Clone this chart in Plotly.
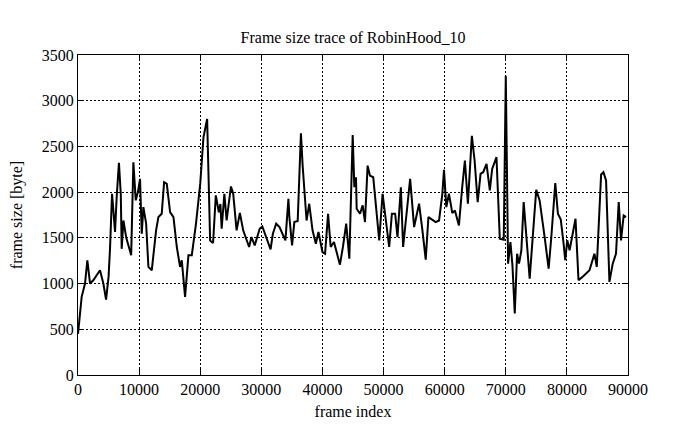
import plotly.graph_objects as go

frame_index = [0, 330, 600, 1150, 1530, 1970, 2500, 3600, 4150, 4590, 5000, 5240, 5570, 5790, 6060,
               6330, 6700, 7000, 7150, 7430, 7900, 8700, 9060, 9450, 9800, 10150, 10430, 10700, 11150,
               11520, 12070, 12780, 13160, 13700, 14090, 14530, 15070, 15620, 16170, 16700, 16980,
               17520, 18070, 18620, 19300, 20000, 20530, 21130, 21400, 21620, 22100, 22550, 23050,
               23300, 23510, 23950, 24320, 25030, 25400, 25950, 26490, 27030, 28000, 28380, 28920,
               29730, 30160, 30810, 31510, 31890, 32430, 32970, 33940, 34430, 34590, 35030, 35400,
               35950, 36220, 36480, 36760, 37100, 37400, 37840, 38380, 38920, 39350, 40000, 40430,
               40920, 41350, 41890, 42860, 43350, 43890, 44400, 44950, 45220, 45490, 45600, 46140,
               46580, 46960, 47390, 47770, 48310, 48750, 49290, 49840, 50270, 50920, 51360, 51900,
               52280, 52830, 53200, 53750, 54350, 55000, 55810, 56360, 56900, 57340, 58530, 59080,
               59620, 59890, 60270, 60700, 61250, 61680, 62330, 62870, 63310, 63800, 64130, 64450,
               64900, 65400, 65870, 66300, 66850, 67390, 67770, 68480, 69020, 69670, 70000, 70200,
               70380, 70760, 71090, 71470, 71850, 72170, 72550, 72930, 73370, 73910, 74980, 75540,
               76360, 77010, 77450, 78100, 78530, 79000, 79460, 79730, 80060, 80440, 81410, 81900,
               82720, 83700, 84510, 84890, 85600, 85980, 86410, 86960, 87500, 88040, 88480, 88860,
               89290, 89670]

frame_size = [450, 673, 855, 1000, 1255, 1000, 1036, 1145, 1000, 825, 1073, 1382, 1982, 1800, 1564,
              1945, 2320, 1980, 1380, 1690, 1500, 1310, 2327, 1910, 2000, 2145, 1545, 1836, 1655,
              1182, 1145, 1582, 1727, 1763, 2109, 2090, 1782, 1727, 1400, 1182, 1255,
              855, 1310, 1310, 1650, 2090, 2600, 2800, 1982, 1472, 1444, 1964, 1780,
              1870, 1600, 1982, 1690, 2062, 1982, 1582, 1774, 1582, 1400, 1509, 1418,
              1600, 1625, 1509, 1374, 1545, 1655, 1618, 1472, 1927, 1727, 1418, 1673,
              1684, 2309, 2643, 2290, 1900, 1690, 1873, 1582, 1436, 1564, 1345, 1327,
              1763, 1400, 1454, 1207, 1400, 1655, 1273, 2625, 2054, 2163, 1818, 1763,
              1855, 1673, 2290, 2181, 2163, 1836, 1473, 1982, 1727, 1400, 1763, 1763,
              1509, 2054, 1400, 1763, 2145, 1618, 1873, 1582, 1262, 1727, 1673, 1690,
              1982, 2243, 1836, 1982, 1771, 1800, 1636, 2054, 2345, 1873, 2236, 2615,
              2345, 1891, 2200, 2218, 2309, 2018, 2254, 2382, 1491, 1480, 3273, 2400,
              1218, 1454, 1200, 673, 1327, 1218, 1364, 1891, 1509, 1054, 2025, 1909,
              1509, 1164, 1509, 2098, 1763, 1700, 1436, 1255, 1473, 1364, 1709, 1036,
              1084, 1145, 1327, 1182, 2193, 2218, 2127, 1018, 1218, 1327, 1891, 1473,
              1745, 1727]

x_ticks = [0, 10000, 20000, 30000, 40000, 50000, 60000, 70000, 80000, 90000]
y_ticks = [0, 500, 1000, 1500, 2000, 2500, 3000, 3500]

FONT = "Liberation Serif"
FS = 16

fig = go.Figure(go.Scatter(
    x=frame_index, y=frame_size, mode="lines",
    line=dict(color="black", width=2), showlegend=False,
))

axis_common = dict(
    showline=True, linecolor="black", linewidth=1, mirror="ticks",
    ticks="inside", ticklen=6, tickcolor="black", tickwidth=1,
    showgrid=True, gridcolor="black", gridwidth=1, griddash="2px,2px",
    zeroline=False, automargin=False,
    tickfont=dict(family=FONT, size=FS, color="black"),
)

fig.update_xaxes(range=[0, 90000], tickvals=x_ticks, ticktext=[str(v) for v in x_ticks],
                 title=dict(text="frame index", font=dict(family=FONT, size=FS, color="black"), standoff=8),
                 **axis_common)
fig.update_yaxes(range=[0, 3500], tickvals=y_ticks, ticktext=[str(v) for v in y_ticks],
                 title=dict(text="frame size [byte]", font=dict(family=FONT, size=FS, color="black"), standoff=17),
                 **axis_common)

# page body adds an 8px offset; margins compensate so the plot sits where the reference has it
fig.update_layout(
    width=695, height=429,
    margin=dict(l=70, r=75, t=47, b=62),
    paper_bgcolor="white", plot_bgcolor="white",
    title=dict(text="Frame size trace of RobinHood_10", x=(353 - 8) / 695, xanchor="center",
               y=1 - 29 / 429, yanchor="middle",
               font=dict(family=FONT, size=FS, color="black")),
)

fig.write_html("out.html")
